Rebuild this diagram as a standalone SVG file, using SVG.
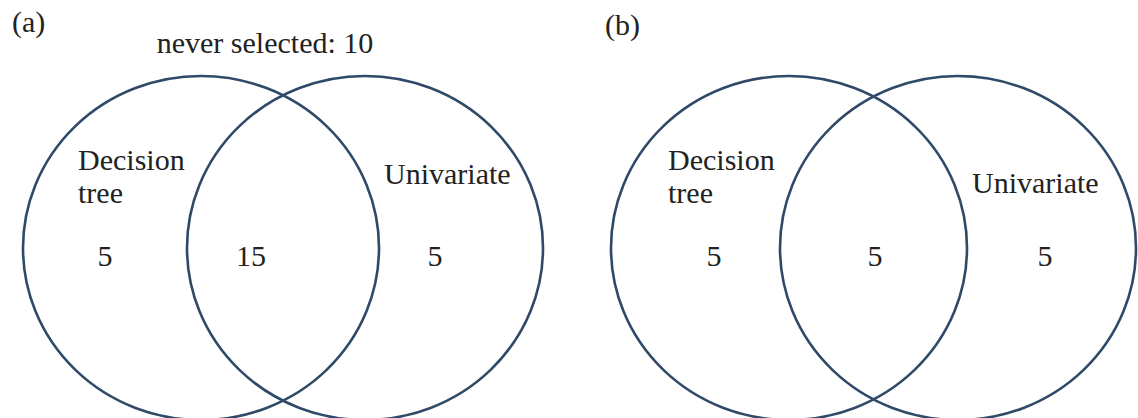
<svg xmlns="http://www.w3.org/2000/svg" width="1138" height="418" viewBox="0 0 1138 418">
<style>
.c{fill:none;stroke:#2f4a68;stroke-width:2.6}
.t{font-family:"Liberation Serif","Times New Roman",serif;font-size:30px;fill:#222}
.m{text-anchor:middle}
</style>
<rect width="1138" height="418" fill="#fff"/>
<g id="panel-a">
<text class="t" x="12" y="32">(a)</text>
<text class="t m" x="265" y="53">never selected: 10</text>
<g id="a-decision-tree">
<ellipse class="c" cx="201" cy="248" rx="178" ry="172"/>
<text class="t" x="78" y="170">Decision</text>
<text class="t" x="78" y="203">tree</text>
<text class="t m" x="105" y="266">5</text>
</g>
<g id="a-univariate">
<ellipse class="c" cx="365" cy="248" rx="178" ry="172"/>
<text class="t" x="384" y="184">Univariate</text>
<text class="t m" x="435" y="266">5</text>
</g>
<g id="a-both">
<text class="t m" x="251" y="266">15</text>
</g>
</g>
<g id="panel-b">
<text class="t" x="605" y="35">(b)</text>
<g id="b-decision-tree">
<ellipse class="c" cx="789" cy="248" rx="178" ry="172"/>
<text class="t" x="668" y="170">Decision</text>
<text class="t" x="668" y="203">tree</text>
<text class="t m" x="714" y="266">5</text>
</g>
<g id="b-univariate">
<ellipse class="c" cx="958" cy="248" rx="178" ry="172"/>
<text class="t" x="972" y="193">Univariate</text>
<text class="t m" x="1045" y="266">5</text>
</g>
<g id="b-both">
<text class="t m" x="875" y="266">5</text>
</g>
</g>
<g id="connectors"></g>
</svg>
